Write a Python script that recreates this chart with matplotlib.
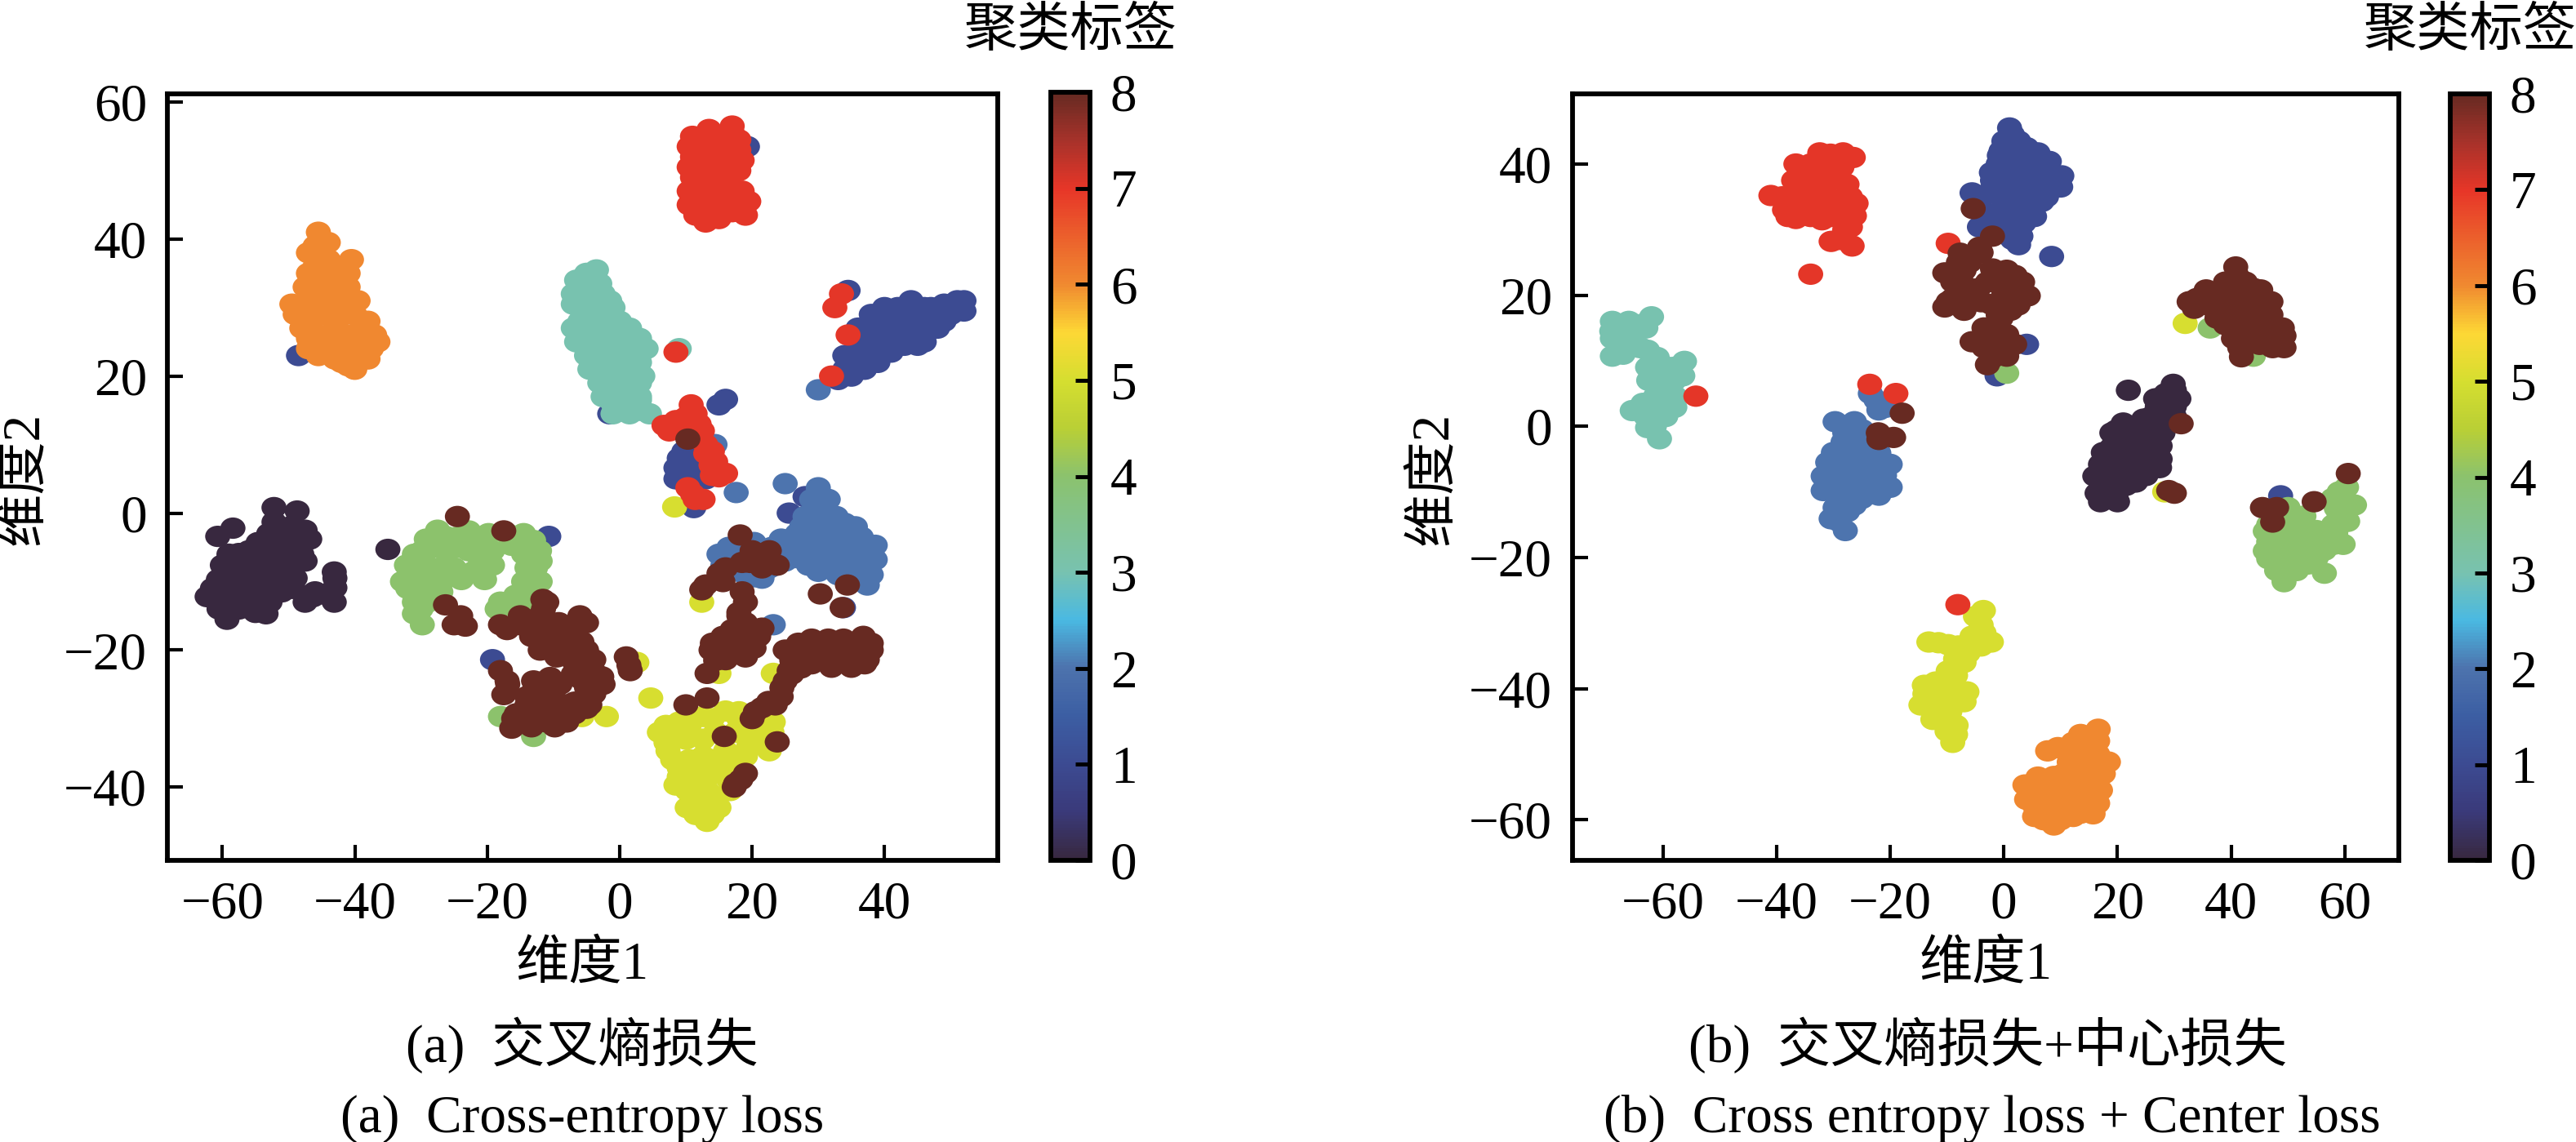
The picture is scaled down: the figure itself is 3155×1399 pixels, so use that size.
import matplotlib
matplotlib.use('Agg')
import matplotlib.pyplot as plt
from matplotlib.colors import LinearSegmentedColormap
from matplotlib.markers import MarkerStyle
from matplotlib.transforms import Affine2D

plt.rcParams['font.family'] = ['Liberation Serif', 'Noto Sans CJK SC']

# cluster points, one list per label
a_label0 = [(-52.2,0.8),(-48.7,0.3),(-49.3,-1.8),(-52.2,-1.3),(-58.4,-2.2),(-60.7,-3.4),(-46.8,-3.8),(-54.6,-4.3),(-51,-4.3),(-48.5,-4.6),
            (-57.5,-5.9),(-54,-6.3),(-50.5,-5.9),(-60,-7.6),(-57,-8),(-53.5,-8),(-50,-7.6),(-43.1,-8.6),(-60.6,-9.7),(-57,-10),(-54,-10.5),
            (-43,-10.9),(-62.3,-12.2),(-59.3,-12.2),(-55.8,-12.6),(-49.3,-11),(-46.3,-12.2),(-43.1,-13),(-52.8,-13),(-59.3,-15.5),(-53.4,-14.7),
            (-35,-5.3),(-50,-3),(-53,-3),(-47.5,-2.5),(-56,-5.5),(-52.5,-5.5),(-48,-6),(-59,-6),(-58.5,-9),(-55,-9),(-52,-9.5),(-49,-9.5),(-47.5,-7),
            (-61.5,-11),(-58,-11.5),(-54,-12),(-51,-11.5),(-60.5,-14),(-57.5,-14),(-55,-14.5),(-59,-13.5),(-56,-8),(-51.5,-7.5),(-44,-12),(-43,-9.5),
            (-46,-11.5),(-47.5,-13),(-50.5,-11)]
a_label1 = [(-48.5,23),(19.3,53.5),(-1.5,14.5),(33,19.5),(35,20),(37,21),(39,22),(41,23.5),(36,23),(38,25),(40,26),(42,26),(44,25),(46,26),
            (36,27),(38,29),(40,30),(42,30),(44,31),(46,30),(48,29),(50,29),(51,31),(50.5,30),(36,25),(34,21),(44,28),(46,28),(48,27),(42,28),
            (40,28),(38,27),(43,24.5),(45,24.5),(47,27),(34.5,32.5),(16,16.6),(15,15.8),(8.5,6.6),(9.7,9),(10.3,7),(12,5.3),(8.5,5),(11.2,0.8),
            (25.6,0),(28,2.4),(-10.7,-3.4),(-19.2,-21.4),(33.8,-13.8),(34,23),(36,21.5),(38,23),(40,24),(42,24.5),(44,26.5),(46,27),(48,28),(50,30),
            (49,30.5),(47,30),(45,30),(43,29.5),(41,29),(39,28),(37,25.5),(35,22),(37,23.5),(39,25.5),(41,27),(43,27),(45,29),(47,29),(49,28),
            (52,29.5),(52,31),(46,25),(9.5,7.5),(10,5),(9,8),(13,5)]
a_label2 = [(30,18),(14.4,10),(17.6,3),(25,4.3),(30,3.7),(29,2),(31.5,2),(28,-0.5),(30,-0.5),(32.7,-0.5),(26.8,-3),(29.7,-3),(32.7,-3),(35.6,-2),
            (24.4,-3.8),(29,-5.5),(32,-5.5),(35,-4.7),(38.6,-4.7),(38.6,-6.8),(28.5,-7.6),(31.5,-7.6),(34.5,-7.6),(36.8,-8),(37.4,-10.5),
            (15,-6),(18,-4.7),(20.3,-4.3),(15.6,-7.6),(20.3,-9.3),(22.6,-8),(23.2,-16.3),(30,1),(27.5,-2),(31,-1.5),(34,-1.5),(25.5,-5),(27,-5),
            (30.5,-4),(33.5,-4),(36.5,-3.5),(37,-6),(29.5,-6.5),(33,-6.5),(36,-6),(30,-8.5),(33,-9),(36,-9.5),(38,-9),(26.5,-6.5),(16.5,-5),(19,-6),
            (17,-8),(19,-9),(21.5,-9.5),(21,-6.5),(23,-5),(25,-7)]
a_label3 = [(-6.5,34),(-3.5,35.5),(-7,32),(-4.5,33),(-2.5,32),(-6,30),(-3.5,30),(-1,30),(-6,28),(-3,28),(0,28),(-5.5,26),(-3,26),(0,25.5),(3,25.5),
            (-6.5,25),(-4,24),(-1,24),(2,23.5),(-2,22),(1,22),(3,22),(-4.5,21),(-1,20),(2,20),(-2,18),(0,18),(2,18),(-1,16),(1.5,16),(0,15),(3,15),
            (4.5,14.5),(9,24),(-5,35),(-5.5,32.5),(-3,33.5),(-1.5,31),(-7,30.5),(-4.5,31),(-2,29),(-7,27),(-4.5,28.5),(-1.5,27),(1.5,27),(-4.5,26.5),
            (-1.5,25.5),(1.5,25),(-5,23),(-2.5,23.5),(0.5,23.5),(4,24),(-3,22),(-0.5,22),(2,21.5),(-3,20),(0,21),(3.5,20),(-3,19),(-1,19),(1,19),(3,19),
            (-2.5,17),(0,17),(3,17),(-1,14.5),(1.5,14.5),(3,16.5)]
a_label4 = [(-29.2,-3.8),(-26.3,-3.4),(-22.8,-2.6),(-19.8,-3),(-14.5,-3),(-12.1,-5.5),(-16.3,-4.7),(-19.2,-5.5),(-22.8,-5.5),(-26.3,-5.5),(-29.8,-5.5),
            (-32.2,-7.6),(-29.2,-7.6),(-26.3,-7.6),(-19.2,-7.6),(-12.7,-8),(-32.8,-10),(-29.8,-10),(-26.9,-10),(-23.9,-9.7),(-20.4,-9.7),(-12,-10),
            (-30.4,-12.6),(-28,-12),(-18,-13),(-15.7,-12),(-13.3,-12.6),(-31,-14.7),(-29.8,-16.3),(-18,-29.7),(-13,-32.6),(-27.5,-2.5),(-24.5,-3.5),
            (-21,-4),(-17,-3),(-13,-4),(-14.5,-6),(-21,-7),(-24.5,-5),(-28,-5),(-31,-6),(-31,-9),(-28,-9),(-25,-8),(-14,-8),(-12,-7),(-13,-11),(-22,-8.5),
            (-32,-11),(-29,-11.5),(-27,-11.5),(-16.5,-13.5),(-14.5,-10),(-30,-14),(-29,-13),(-31,-13),(-18.5,-14)]
a_label5 = [(8.3,0.9),(12.4,-13),(15,-23.4),(23.2,-23.4),(2.6,-21.8),(4.7,-27),(-2,-29.7),(-5.7,-29.7),(6,-32),(9,-30.5),(12.6,-29.7),(16,-28.9),
            (20,-30.5),(23.2,-30.5),(22.6,-34.7),(20,-33),(7.3,-34.7),(9,-37.2),(12.6,-33),(16,-34.7),(19,-35.5),(8.5,-39.7),(11.4,-38),(15,-38),
            (16.7,-40.5),(13.2,-40.5),(10.2,-43),(13.2,-45),(15,-43),(10.2,-40.5),(12.6,-35.5),(7,-31),(8,-33),(10.5,-31),(14,-30),(18,-30),(21.5,-31.5),
            (21.5,-33),(17.5,-32),(14.5,-32),(10,-33),(8,-36),(10.5,-36),(14,-36),(17,-37),(19.5,-34),(9,-38.5),(13,-38.5),(16.5,-39),(11.5,-41),
            (14.5,-41.5),(11.5,-44),(14,-44),(12,-42.5),(7,-33.5),(18,-29),(23,-32)]
a_label6 = [(-45.5,41),(-44,39.5),(-47,38),(-46,36),(-44,37),(-40.5,37),(-42,36),(-47,35),(-45.5,33.5),(-43,34),(-41,33),(-46,31),(-44,31),(-42,31),
            (-39.5,31),(-49.5,30.5),(-48,29),(-45,29),(-43,28),(-40,29),(-38,28),(-48,27),(-46,26),(-44,26),(-41,26),(-37,26),(-47,24),(-44,24),
            (-42,24),(-39,24),(-37.5,24),(-42,22),(-40,21),(-38,22.5),(-46,39),(-45,35),(-47.5,33),(-43.5,32.5),(-41,35),(-44.5,33.5),(-47,31),(-49,29),
            (-46.5,28),(-44,29.5),(-41.5,29),(-39,27),(-47,25.5),(-45,25),(-42.5,26.5),(-39.5,25.5),(-45.5,23),(-43,22.5),(-40,23),(-41,21.5),(-38.5,26),
            (-36.5,25)]
a_label7 = [(11,55),(13.5,56),(17,55.5),(11,52),(13,52),(15,53),(17,52),(18,53),(11,49),(14,49),(16,49),(18,50),(12,46),(15,46),(17,46),(11.5,43.5),
            (13,42.5),(15,43),(17,44),(19.5,45.5),(19,43.5),(13,44),(10.5,45),(33.5,32),(32.5,30),(34.5,26),(32,20),(8.5,23.5),(10.8,15.8),(11.4,14.5),
            (6.7,12.8),(9,12.4),(10.8,13.3),(12,10.8),(13,8.7),(13.8,7),(16,5.8),(15,5.3),(10.3,3.7),(11.4,2),(12.6,2),(10.5,53.5),(12,54),(14.5,54),
            (16,54),(18,54.5),(10.5,50.5),(12.5,50.5),(14.5,51),(16.5,50.5),(18.5,51.5),(12,48),(14,47.5),(16.5,47.5),(12.5,44.5),(14.5,44.5),(16.5,45),
            (18.5,47),(10.5,47),(17,56.5),(8.5,13.5),(10,14),(12,13),(12.5,12),(14,9),(14,5.5),(13,10),(11,2.8),(14.5,7.5),(7.5,12)]
a_label8 = [(10.3,10.8),(18.2,-3.2),(19.7,-7.2),(22.6,-5.5),(23.8,-7.6),(18.5,-7.2),(21.5,-6.8),(15,-8.8),(15.6,-10),(12.4,-11.2),(30.3,-11.8),(34.4,-10.5),
            (33.6,-13.8),(19,-13),(18,-15),(18.5,-17.2),(21.5,-16.8),(15.6,-18),(18,-19.7),(20.3,-19.7),(13.8,-20),(13.2,-23.4),(16,-21.4),
            (29,-18.4),(31.5,-18.4),(33.8,-18.4),(36.8,-18),(25,-20),(28,-20.5),(31,-21),(34.4,-21),(37.4,-21.4),(25.6,-23),(27.4,-22.6),(24.4,-26.8),
            (21.5,-28.4),(20,-30),(13.2,-27),(10,-28),(15.8,-32.6),(23.8,-33.4),(18.3,-38.9),(17.3,-40),
            (-26.3,-13.4),(-25,-16.3),(-23.3,-16.5),(-24.5,-0.5),(-17.5,-2.6),(-18,-16.3),(-15,-16.3),(-11.6,-12.6),(-12,-15),(-9.2,-16),(-5,-16),
            (-13.3,-18),(-11,-18.8),(-8.6,-19.7),(-5.7,-18.8),(-3.9,-21.4),(-6.8,-21.8),(-5.7,-24.3),(-2.7,-23.9),(-3.9,-26.4),(-6.8,-27.6),(1.4,-22.2),
            (-18,-23),(-16.9,-25),(-12,-24.7),(-9,-25),(-14,-26.8),(-11,-27.2),(-15.6,-29.3),(-12,-29.7),(-9.2,-29.7),(-6.8,-29.3),(-16.3,-31.4),
            (-13.3,-31.2),(-9.8,-31.2),(-14,-16),(-12,-17),(-10,-17.5),(-7,-17.5),(-9.5,-21),(-12,-20),(-7,-20),(-5,-20),(-7,-23.5),(-4,-23),(-4.5,-28),
            (-5,-25.5),(-2.5,-25),(-13,-26),(-10,-26),(-14,-28),(-11,-28.5),(-8,-28),(-14,-30.5),(-11,-30.5),(-8,-30.5),(-16,-30),(-13,-24.5),(-10.5,-24),
            (-15,-15),(-17,-17),(-17,-24.5),(-17.5,-26.5),(-5,-28.5),(-11.5,-14),(-11,-13),(-6,-15),(-24,-15),(1,-21),(1.6,-23),
            (18,-14.5),(19,-16),(17,-17),(20,-18),(16,-20),(14.5,-21.5),(17,-18.5),(19,-21),(14,-19),(21,-18),(18.5,-11.5),(27,-19),(30,-19.5),(33,-19.5),
            (36,-19.5),(38,-20),(26,-21.5),(29,-22),(32,-22.5),(35,-22.5),(37,-22),(25,-24.5),(26,-23.5),(23.5,-28),(22.5,-27.5),(20.5,-29),(24.5,-25.5),
            (38,-19),(20,-5.5),(21.5,-8),(17.5,-39.5),(19,-38),(15,-9.5),(16,-8),(13,-10.5)]

# same for panel (b)
b_label0 = [(21.9,5.5),(29.8,6.4),(26.7,4.2),(30.8,4.2),(19.8,-0.6),(24.6,1.1),(28,1.6),(28,-1),(24.6,-1.5),(19,-3.2),(21.9,-4.1),(26,-4.1),(17,-5.8),
            (20.5,-6.3),(24.6,-6.3),(16,-7.6),(19.8,-8.5),(23.2,-8.5),(27.4,-6.3),(16.4,-10.2),(19.8,-10.2),(17,-11.5),(30,5.5),(28.5,5),(27,3),(30,3),
            (26,1.5),(28,3),(30,1.5),(21,0.5),(23,-1),(26,0),(20,-2),(22.5,-2.5),(25,-3),(27.5,-3),(17.5,-4),(19,-5),(23,-5),(26,-5),(18,-7),(22,-7),
            (25,-7.5),(18,-9),(21.5,-9),(18,-11),(20,-11.5),(19,-1),(28,-0.5),(27.5,-5)]
b_label1 = [(1,45.5),(0,43.5),(2.6,43.5),(-0.8,41.3),(2.6,41.3),(6,41.7),(8,40.4),(-2.2,38.7),(1.2,38.7),(5.4,39),(10.2,38.2),(-5.6,35.6),(-2.2,36),(1.9,36),
            (6,36),(8.8,36.5),(-4.3,33),(0,33.4),(4,33.4),(6.7,34.3),(5.4,32),(-4.3,30.4),(-0.8,31.2),(2.6,30.4),(2.6,27.7),(8.4,25.9),(4,12.5),(-1.2,7.7),
            (48.7,-10.6),(1.5,44.5),(-0.5,42),(1,42),(4,42.5),(-1,40),(1,40),(3.5,40.5),(6.5,40),(-2,37.5),(0,37.5),(2.5,37.5),(5,37.5),(8,38),(10,36.5),
            (-4,35),(-0.5,35),(3,35),(7.5,35),(-3,32.5),(2,32),(-2.5,30),(1,30),(3.5,31),(1.5,28.5),(3,29)]
b_label2 = [(-23.5,5),(-20.8,2.9),(-29.7,0.7),(-26.3,0.7),(-28.3,-2.4),(-24.9,-1.5),(-22,-4.1),(-28.3,-5),(-24.9,-5),(-20,-5.8),(-31.8,-7.6),(-27.6,-7.6),
            (-24.2,-7.6),(-20,-9.3),(-31.8,-9.8),(-27.6,-10.2),(-23.5,-9.8),(-29.7,-12.4),(-26.3,-12),(-30.4,-14.1),(-27.9,-15.9),(-28,-1),(-26,-2.5),
            (-23,-3),(-30,-4),(-26.5,-3.5),(-26,-6),(-22.5,-6),(-29.5,-6),(-30,-8.5),(-28,-9),(-25.5,-9),(-22,-8),(-22,-10.5),(-29,-11),(-25,-11),
            (-27.5,-13),(-29,-14.5),(-21,-7.5),(-31,-5.5),(-22,2.5),(-22.5,4),(-25,-0.5)]
b_label3 = [(-68.9,16),(-62,16.7),(-64,15.5),(-68.9,13.4),(-65.4,13.4),(-68.9,10.7),(-62.7,11.6),(-56.2,9.9),(-62.7,9),(-59.2,9),(-59.2,6.8),(-56.5,7.7),
            (-61.3,4.6),(-57.9,4.6),(-65.4,2.4),(-61.3,2),(-57.9,2.9),(-62.7,-0.2),(-60.6,-1.9),(-66,16),(-69,14.5),(-66.5,14.5),(-66,12),(-67,11),(-64,12),
            (-61,10.5),(-58,9),(-60.5,7.5),(-62.5,7),(-58,7),(-59.5,5.5),(-60.5,3.5),(-63.5,3.5),(-63,1.5),(-59.5,1.5),(-61.5,0),(-63,15)]
b_label4 = [(60.3,-9.3),(57.9,-11),(61.7,-12),(59,-13.7),(50,-12.4),(52.8,-13.7),(46.6,-15),(50,-15.4),(55,-15.9),(58.4,-16.3),(46.6,-17.6),(50.7,-18),
            (56.4,-18.9),(59.7,-18),(46.6,-20.2),(50,-21),(53.5,-21),(56.4,-22.4),(49.3,-23.7),(0.5,8.1),(36.3,15),(43.9,10.7),(59,-10),(60,-11.5),
            (58.5,-12.5),(52,-15),(48.5,-14),(54,-17),(52,-17),(48.5,-17),(48,-19.5),(52,-19),(54.5,-18.5),(58,-15),(60.5,-14.5),(57,-16.5),(48,-22),
            (51.5,-22),(55,-20),(50,-13.5),(46,-16),(46,-19),(58,-18)]
b_label5 = [(-3.6,-28.1),(-4,-30.3),(-5.6,-32),(-2.2,-32.9),(-13.2,-32.9),(-9.8,-33.3),(-6.3,-34.6),(-9.8,-37.3),(-7,-36),(-13.9,-40.8),(-14.6,-42.5),
            (-10.4,-39.9),(-7,-42),(-11,-42.5),(-12.5,-44.7),(-8.4,-45.6),(-9,-48.2),(31.9,15.7),(28.3,-10),(-5,-29),(-3.5,-31.5),(-4,-33.5),(-11.5,-33),
            (-8,-33.5),(-6,-33),(-8.5,-35.5),(-8.5,-38),(-9,-39),(-12,-39),(-13,-42),(-9,-41),(-12.5,-41),(-9.5,-43.5),(-11,-44),(-10,-46.5),(-8.5,-47),
            (-14,-39.5),(-6.5,-40.5)]
b_label6 = [(16.6,-46.2),(12.2,-48.2),(7.7,-49.5),(15.7,-48.6),(18.4,-51.2),(11.5,-51.2),(15,-51.2),(8.8,-53.4),(12.2,-53.4),(16.4,-53.4),(3.7,-54.7),(6.7,-54.7),
            (4,-56.9),(7.4,-56.9),(10.9,-56.9),(15,-56.9),(5.4,-59.5),(8.8,-60.8),(12.2,-59.5),(15.7,-59.1),(13.5,-47),(16.5,-48),(9.5,-49),(11,-49.5),
            (13,-50),(16.5,-50),(17.5,-53),(14,-53),(10.5,-53),(6,-53.5),(17,-52),(5,-55.5),(8.5,-55),(12,-55),(15,-55),(17,-55.5),(5.5,-58),(8,-58),
            (11,-58),(14,-58),(16.5,-57.5),(10,-60),(7,-60),(13.5,-59)]
b_label7 = [(-28.3,41.7),(-32.4,41.7),(-36.6,40),(-30.4,39.5),(-34.5,37.8),(-27.6,36.9),(-31,37.3),(-41,35.2),(-37.3,35.2),(-33,35.2),(-29,34.3),(-26.3,32.1),
            (-36.6,31.7),(-30.4,32),(-27,30.4),(-30.4,28.2),(-26.7,27.5),(-34,23.2),(-38.6,33),(-54.2,4.6),(-23.6,6.4),(-19,5),(-9.8,27.9),(-8.1,-27.2),
            (-30.5,41.5),(-26.5,41),(-34,40),(-33,39.5),(-28.5,39.5),(-36,38),(-32.5,38),(-29,38),(-39,35),(-35,36),(-31,35),(-27,35),(-35.5,33.5),(-32,33),
            (-28.5,32.5),(-26,34),(-38,32),(-34,32),(-32,31.5),(-28,30),(-29,28.5),(-27,33),(-28,34),(-33,37),(-37,37.5)]
b_label8 = [(-5.4,33.2),(-2,29),(-7.7,26.4),(-4.3,27.3),(-10.4,23.4),(-7,23.8),(0.5,23.8),(3.3,22),(-2.9,22),(-9.8,19),(-6.3,20.3),(0,20.3),(4.3,19.9),(-10.4,18.2),
            (-7,17.7),(-2.2,18.6),(1.2,17.7),(-1.5,15.5),(-5.6,12.9),(-2.2,13.4),(1.9,12.5),(-2.2,10.3),(0.5,10.7),(-2.9,9.4),
            (40.8,24.3),(39,22),(42.5,22),(45.2,20.8),(35.6,20.8),(39.7,19.9),(43,19.5),(46,19),(32.6,19),(35.6,18.6),(39,17.7),(42.5,17.3),(46,16.8),(39,15.5),
            (42.5,15),(46,14.7),(49.3,13.8),(40.4,13.4),(43.9,12.9),(47.3,12),(49.3,12),(41.8,10.6),
            (-17.9,2),(-22.1,-1),(-19.4,-1.7),(-22,-2),(31.2,0.4),(30,-10.2),(29,-9.8),(60.6,-7.2),(45.5,-12.4),(48,-12.4),(47.3,-14.6),(54.6,-11.5),
            (-8,25),(-6,25),(-9,22),(-7,21.5),(-4.5,21),(-1.5,23),(2,23),(-0.5,21.5),(1.5,20.5),(3,20.5),(-9,19.5),(-7.5,19),(-4,19),(0,18.5),(2.5,18.5),
            (-0.5,16.5),(-3.5,15),(-1.5,14),(0.5,14),(-3.5,12),(-0.5,12),(-1.5,11),(-4,26.5),(-2,24),(-1,17),(41,23),(38.5,20.5),(41,20.5),(44,21),(37,20),
            (34,19.5),(33.5,18),(37,18),(41,18),(44.5,18),(47,19),(37.5,16.5),(40.5,16.5),(44,16),(47,17),(41,15),(44,14.5),(47,15),(49,15),(48,13.5),(42,12),
            (45,12.5),(41.5,12),(42,14.5)]

a_clusters = [a_label0, a_label1, a_label2, a_label3, a_label4, a_label5, a_label6, a_label7, a_label8]
b_clusters = [b_label0, b_label1, b_label2, b_label3, b_label4, b_label5, b_label6, b_label7, b_label8]

a_xticks = [-60, -40, -20, 0, 20, 40]
a_yticks = [-40, -20, 0, 20, 40, 60]
b_xticks = [-60, -40, -20, 0, 20, 40, 60]
b_yticks = [-60, -40, -20, 0, 20, 40]
bar_ticks = [0, 1, 2, 3, 4, 5, 6, 7, 8]

W, H = 3155, 1399
DPI = 100
FS = 47

cmap = LinearSegmentedColormap.from_list('clusters', [
    (0 / 8, '#38283f'), (0.5 / 8, '#3a3a7a'), (1 / 8, '#3c4b92'), (1.5 / 8, '#3c5ea3'), (2 / 8, '#4d73ad'),
    (2.5 / 8, '#4ab9e2'), (3 / 8, '#78c2b0'), (4 / 8, '#8bc26e'), (4.5 / 8, '#b9cf35'), (5 / 8, '#d5de30'),
    (5.5 / 8, '#fdd835'), (6 / 8, '#f08a30'), (7 / 8, '#e73628'), (7.5 / 8, '#a8322a'), (8 / 8, '#672a22')])

# the dots are slightly flattened in the reference
dot = MarkerStyle('o', transform=Affine2D().scale(1.08, 0.92))


def rect(x0, x1, y0, y1):
    # pixel box (top-left origin) to figure fractions
    return [x0 / W, 1 - y1 / H, (x1 - x0) / W, (y1 - y0) / H]


def panel(fig, box, cbox, clusters, xlim, ylim, xticks, yticks, ylabel_x, cap_cn, cap_cn_x, cap_en, cap_en_x):
    ax = fig.add_axes(rect(*box))
    for label, pts in enumerate(clusters):
        xs = [p[0] for p in pts]
        ys = [p[1] for p in pts]
        sc = ax.scatter(xs, ys, c=[label] * len(pts), cmap=cmap, vmin=0, vmax=8, s=420, linewidths=0, marker=dot)
    ax.set_xlim(xlim)
    ax.set_ylim(ylim)
    ax.set_xticks(xticks)
    ax.set_yticks(yticks)
    ax.tick_params(direction='in', length=14, width=3, labelsize=FS, pad=18)
    for s in ax.spines.values():
        s.set_linewidth(4.2)
    ax.set_xlabel('维度1', fontsize=FS, va='center')
    ax.set_ylabel('维度2', fontsize=FS, va='center')
    ax.xaxis.set_label_coords(0.5, (box[3] - 1182) / (box[3] - box[2]))
    ax.yaxis.set_label_coords((ylabel_x - box[0]) / (box[1] - box[0]), (box[3] - 586) / (box[3] - box[2]))

    cax = fig.add_axes(rect(*cbox))
    cb = fig.colorbar(sc, cax=cax, ticks=bar_ticks)
    cb.ax.tick_params(direction='in', length=13, width=3.5, labelsize=FS, pad=18)
    cb.outline.set_linewidth(4.2)
    mid = (cbox[0] + cbox[1]) / 2
    fig.text(mid / W, 1 - 40 / H, '聚类标签', fontsize=FS, ha='center', va='center')
    fig.text(cap_cn_x / W, 1 - 1280 / H, cap_cn, fontsize=47, ha='center', va='center')
    fig.text(cap_en_x / W, 1 - 1371 / H, cap_en, fontsize=47, ha='center', va='center')
    return ax


fig = plt.figure(figsize=(W / DPI, H / DPI), dpi=DPI)

panel(fig, (205, 1222, 115, 1054), (1287, 1335, 113, 1054), a_clusters, (-68.3, 57.1), (-50.7, 61.2),
      a_xticks, a_yticks, 30, '(a)  交叉熵损失', 713, '(a)  Cross-entropy loss', 713)
panel(fig, (1926, 2938, 115, 1054), (3001, 3049, 115, 1054), b_clusters, (-75.9, 69.5), (-66.2, 50.7),
      b_xticks, b_yticks, 1756, '(b)  交叉熵损失+中心损失', 2434, '(b)  Cross entropy loss + Center loss', 2440)

fig.savefig('out.png', dpi=DPI)
